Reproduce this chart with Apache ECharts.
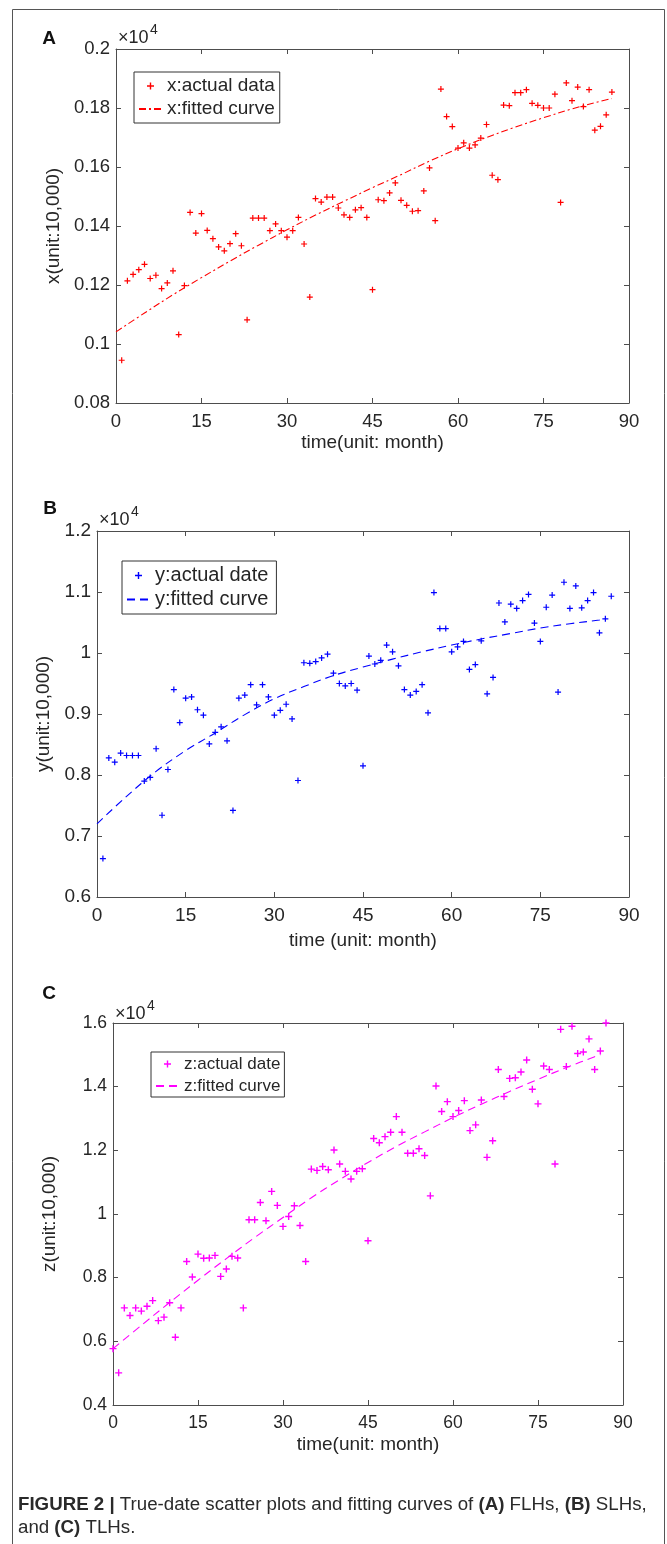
<!DOCTYPE html>
<html><head><meta charset="utf-8">
<script src="https://cdn.jsdelivr.net/npm/echarts@6/dist/echarts.min.js"></script>
<style>html,body{margin:0;padding:0;background:#fff}#c{width:667px;height:1544px}</style>
</head><body><div id="c"></div>
<script>
// ---------- data ----------
const monthsAB = [1,2,3,4,5,6,7,8,9,10,11,12,13,14,15,16,17,18,19,20,21,22,23,24,25,26,27,28,29,30,31,32,33,34,35,36,37,38,39,40,41,42,43,44,45,46,47,48,49,50,51,52,53,54,55,56,57,58,59,60,61,62,63,64,65,66,67,68,69,70,71,72,73,74,75,76,77,78,79,80,81,82,83,84,85,86,87];
const monthsC = [0,1,2,3,4,5,6,7,8,9,10,11,12,13,14,15,16,17,18,19,20,21,22,23,24,25,26,27,28,29,30,31,32,33,34,35,36,37,38,39,40,41,42,43,44,45,46,47,48,49,50,51,52,53,54,55,56,57,58,59,60,61,62,63,64,65,66,67,68,69,70,71,72,73,74,75,76,77,78,79,80,81,82,83,84,85,86,87];

const xActual = [0.0945,0.1214,0.1236,0.1252,0.1270,0.1222,0.1233,0.1188,0.1207,0.1248,0.1032,0.1198,0.1446,0.1376,0.1442,0.1385,0.1357,0.1329,0.1316,0.1340,0.1374,0.1333,0.1082,0.1427,0.1427,0.1427,0.1384,0.1407,0.1384,0.1362,0.1384,0.1429,0.1339,0.1159,0.1493,0.1481,0.1498,0.1498,0.1461,0.1438,0.1429,0.1455,0.1462,0.1429,0.1184,0.1489,0.1486,0.1512,0.1546,0.1487,0.1470,0.1450,0.1452,0.1519,0.1597,0.1418,0.1864,0.1771,0.1737,0.1664,0.1682,0.1664,0.1675,0.1698,0.1744,0.1572,0.1557,0.1810,0.1808,0.1852,0.1852,0.1862,0.1816,0.1809,0.1800,0.1800,0.1847,0.1480,0.1885,0.1825,0.1871,0.1805,0.1862,0.1725,0.1738,0.1777,0.1854];
const yActual = [0.663,0.828,0.821,0.836,0.832,0.832,0.832,0.790,0.796,0.843,0.734,0.809,0.940,0.886,0.926,0.928,0.907,0.898,0.851,0.870,0.879,0.856,0.742,0.926,0.931,0.948,0.915,0.948,0.928,0.898,0.906,0.916,0.892,0.791,0.984,0.983,0.986,0.992,0.998,0.967,0.950,0.946,0.950,0.939,0.815,0.995,0.982,0.988,1.013,1.002,0.979,0.940,0.931,0.937,0.948,0.902,1.099,1.040,1.040,1.002,1.010,1.019,0.973,0.981,1.020,0.933,0.960,1.082,1.051,1.080,1.073,1.086,1.096,1.049,1.019,1.075,1.095,0.936,1.116,1.073,1.110,1.074,1.086,1.099,1.033,1.056,1.093];
const zActual = [0.577,0.501,0.705,0.681,0.705,0.695,0.710,0.728,0.665,0.676,0.721,0.613,0.705,0.851,0.802,0.874,0.861,0.862,0.870,0.804,0.827,0.867,0.862,0.705,0.982,0.982,1.036,0.979,1.071,1.027,0.961,0.992,1.026,0.964,0.851,1.141,1.137,1.149,1.139,1.201,1.157,1.134,1.110,1.134,1.142,0.916,1.237,1.224,1.243,1.257,1.306,1.257,1.191,1.191,1.205,1.184,1.057,1.402,1.322,1.353,1.306,1.325,1.356,1.262,1.280,1.358,1.178,1.230,1.454,1.369,1.426,1.428,1.446,1.484,1.392,1.346,1.465,1.454,1.157,1.580,1.463,1.590,1.504,1.509,1.550,1.454,1.512,1.600];

const fitMonthsA = [0,5,10,15,20,25,30,35,40,45,50,55,60,65,70,75,80,85,87];
const xFitted = [0.1041,0.1105,0.1167,0.1225,0.1281,0.1335,0.1387,0.1437,0.1484,0.1530,0.1574,0.1620,0.1662,0.1700,0.1735,0.1767,0.1797,0.1823,0.1832];
const fitMonthsBC = [0,5,10,15,20,25,30,35,40,45,50,55,60,65,70,75,80,85,86];
const yFitted = [0.720,0.765,0.806,0.840,0.869,0.899,0.925,0.945,0.963,0.977,0.990,1.002,1.013,1.023,1.032,1.041,1.048,1.054,1.056];
const zFitted = [0.577,0.650,0.722,0.792,0.860,0.926,0.989,1.051,1.108,1.162,1.212,1.258,1.303,1.345,1.385,1.423,1.460,1.494,1.500];

const timeTicks = ['0','15','30','45','60','75','90'];
const xTicks = ['0.08','0.1','0.12','0.14','0.16','0.18','0.2'];
const yTicks = ['0.6','0.7','0.8','0.9','1','1.1','1.2'];
const zTicks = ['0.4','0.6','0.8','1','1.2','1.4','1.6'];

// ---------- styling ----------
const FONT = 'Liberation Sans, Arial, Helvetica, sans-serif';
const AX = '#4d4d4d';
const TXT = '#262626';
const PLUS = 'path://M4,0H6V4H10V6H6V10H4V6H0V4H4Z';
const zip = (a, b) => a.map((v, i) => [v, b[i]]);

const grids = [
  {left:116, top:49, width:513, height:354},
  {left:97, top:531, width:532, height:366},
  {left:113, top:1023, width:510, height:382}
];

function xAxes(gi, name, gap, fs) {
  return [
    {gridIndex:gi, type:'value', min:0, max:90, interval:15, position:'bottom',
     axisLine:{show:true, onZero:false, lineStyle:{color:AX}},
     axisTick:{inside:true, length:5, lineStyle:{color:AX}},
     splitLine:{show:false},
     axisLabel:{color:TXT, fontSize:fs, fontFamily:FONT, margin:9, formatter:(v,i)=>timeTicks[i]},
     name:name, nameLocation:'middle', nameGap:gap,
     nameTextStyle:{color:TXT, fontSize:19, fontFamily:FONT}},
    {gridIndex:gi, type:'value', min:0, max:90, interval:15, position:'top',
     axisLine:{show:true, onZero:false, lineStyle:{color:AX}},
     axisTick:{inside:true, length:5, lineStyle:{color:AX}},
     splitLine:{show:false}, axisLabel:{show:false}}
  ];
}
function yAxes(gi, min, max, iv, ticks, name, gap, fs) {
  return [
    {gridIndex:gi, type:'value', min:min, max:max, interval:iv, position:'left',
     axisLine:{show:true, onZero:false, lineStyle:{color:AX}},
     axisTick:{inside:true, length:5, lineStyle:{color:AX}},
     splitLine:{show:false},
     axisLabel:{color:TXT, fontSize:fs, fontFamily:FONT, margin:6, formatter:(v,i)=>ticks[i]},
     name:name, nameLocation:'middle', nameGap:gap,
     nameTextStyle:{color:TXT, fontSize:19, fontFamily:FONT}},
    {gridIndex:gi, type:'value', min:min, max:max, interval:iv, position:'right',
     axisLine:{show:true, onZero:false, lineStyle:{color:AX}},
     axisTick:{inside:true, length:5, lineStyle:{color:AX}},
     splitLine:{show:false}, axisLabel:{show:false}}
  ];
}

const xAxis = [].concat(
  xAxes(0, 'time(unit: month)', 30, 18.5),
  xAxes(1, 'time (unit: month)', 34, 19),
  xAxes(2, 'time(unit: month)', 30, 17.5)
);
const yAxis = [].concat(
  yAxes(0, 0.08, 0.2, 0.02, xTicks, 'x(unit:10,000)', 48, 18.5),
  yAxes(1, 0.6, 1.2, 0.1, yTicks, 'y(unit:10,000)', 32, 19),
  yAxes(2, 0.4, 1.6, 0.2, zTicks, 'z(unit:10,000)', 54, 17.5)
);

function scatter(name, xi, yi, data, color, size) {
  return {type:'scatter', name:name, xAxisIndex:xi, yAxisIndex:yi, data:data,
    symbol:PLUS, symbolSize:size, itemStyle:{color:color, opacity:1}, z:3, silent:true};
}
function fit(name, xi, yi, data, color, dash) {
  return {type:'line', name:name, xAxisIndex:xi, yAxisIndex:yi, data:data,
    symbol:'none', showSymbol:false, smooth:0.35,
    lineStyle:{color:color, width:1.1, type:dash}, itemStyle:{color:color}, z:2, silent:true};
}

const series = [
  scatter('x:actual data', 0, 0, zip(monthsAB, xActual), '#ff0000', 6),
  fit('x:fitted curve', 0, 0, zip(fitMonthsA, xFitted), '#ff0000', [7,3,2,3]),
  scatter('y:actual date', 2, 2, zip(monthsAB, yActual), '#0000ff', 6),
  fit('y:fitted curve', 2, 2, zip(fitMonthsBC, yFitted), '#0000ff', [8,5]),
  scatter('z:actual date', 4, 4, zip(monthsC, zActual), '#ff00ff', 7),
  fit('z:fitted curve', 4, 4, zip(fitMonthsBC, zFitted), '#ff00ff', [8,5])
];

function legend(names, left, top, fs, lh, gap, pad) {
  return {data:[{name:names[0]}, {name:names[1], itemStyle:{opacity:0, borderWidth:0}}],
    left:left, top:top, orient:'vertical',
    padding:pad, itemWidth:23, itemHeight:7, itemGap:gap,
    borderColor:'#333', borderWidth:1, backgroundColor:'#fff',
    textStyle:{color:TXT, fontSize:fs, fontFamily:FONT, lineHeight:lh}, selectedMode:false};
}

const graphic = [
  {type:'rect', shape:{x:12.5, y:9.5, width:652, height:1600}, style:{fill:'none', stroke:'#555', lineWidth:1}, silent:true},
  {type:'text', x:49, y:39, style:{text:'A', font:'bold 19px '+FONT, fill:'#111', align:'center', verticalAlign:'middle'}},
  {type:'text', x:50, y:509, style:{text:'B', font:'bold 19px '+FONT, fill:'#111', align:'center', verticalAlign:'middle'}},
  {type:'text', x:49, y:994, style:{text:'C', font:'bold 19px '+FONT, fill:'#111', align:'center', verticalAlign:'middle'}},
  {type:'text', x:118, y:38, style:{text:'×10', font:'18px '+FONT, fill:TXT, verticalAlign:'middle'}},
  {type:'text', x:150, y:30, style:{text:'4', font:'14px '+FONT, fill:TXT, verticalAlign:'middle'}},
  {type:'text', x:99, y:520, style:{text:'×10', font:'18px '+FONT, fill:TXT, verticalAlign:'middle'}},
  {type:'text', x:131, y:512, style:{text:'4', font:'14px '+FONT, fill:TXT, verticalAlign:'middle'}},
  {type:'text', x:115, y:1014, style:{text:'×10', font:'18px '+FONT, fill:TXT, verticalAlign:'middle'}},
  {type:'text', x:147, y:1006, style:{text:'4', font:'14px '+FONT, fill:TXT, verticalAlign:'middle'}},
  {type:'text', x:18, y:1493, style:{
    text:'{b|FIGURE 2 |} True-date scatter plots and fitting curves of {b|(A)} FLHs, {b|(B)} SLHs,\nand {b|(C)} TLHs.',
    font:'18.7px '+FONT, fill:'#2a2a2a', lineHeight:23,
    rich:{b:{fontWeight:'bold', fontSize:18.7, fontFamily:FONT, fill:'#2a2a2a', lineHeight:23}}}}
];

const chart = echarts.init(document.getElementById('c'), null, {renderer:'canvas'});
chart.setOption({
  backgroundColor:'#fff',
  animation:false,
  grid:grids,
  xAxis:xAxis,
  yAxis:yAxis,
  legend:[
    legend(['x:actual data','x:fitted curve'], 134, 72, 19, 20, 3, [4,5,4,4]),
    legend(['y:actual date','y:fitted curve'], 122, 561, 20, 21, 3, [4,8,4,4]),
    legend(['z:actual date','z:fitted curve'], 151, 1052, 17, 18, 4, [3,4,2,4])
  ],
  series:series,
  graphic:graphic
});
</script></body></html>
